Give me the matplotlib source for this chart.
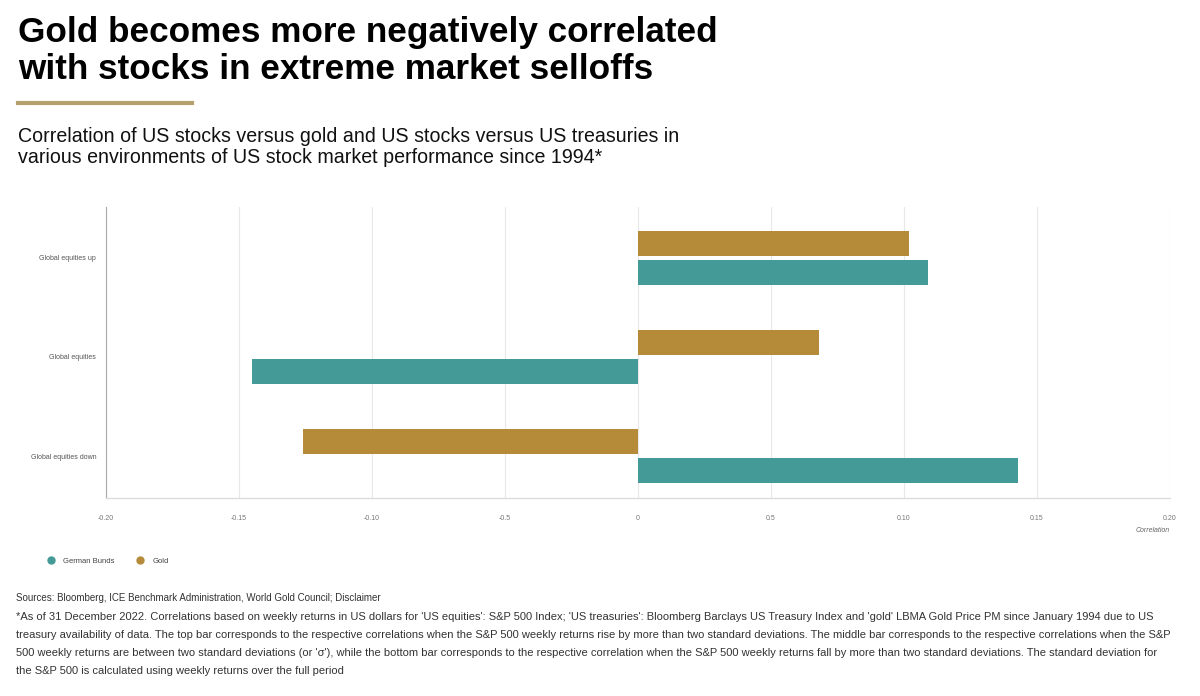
import matplotlib
matplotlib.use("Agg")
import matplotlib.pyplot as plt
from matplotlib.lines import Line2D

plt.rcParams["font.family"] = ["Liberation Sans", "DejaVu Sans"]

# data (bottom -> top)
categories = ["Global equities down", "Global equities", "Global equities up"]
gold = [-0.126, 0.068, 0.102]
bunds = [0.143, -0.145, 0.109]
xticks = [-0.20, -0.15, -0.10, -0.05, 0, 0.05, 0.10, 0.15, 0.20]
xtick_labels = ["-0.20", "-0.15", "-0.10", "-0.5", "0", "0.5", "0.10", "0.15", "0.20"]

GOLD = "#b58b3a"
TEAL = "#439a97"

fig = plt.figure(figsize=(12, 6.96), dpi=100)
ax = fig.add_axes([0.0883, 0.2845, 0.8867, 0.4181])

ypos = list(range(len(categories)))
ax.barh([y + 0.15 for y in ypos], gold, height=0.25, color=GOLD, zorder=3)
ax.barh([y - 0.15 for y in ypos], bunds, height=0.25, color=TEAL, zorder=3)

ax.set_xlim(-0.20, 0.20)
ax.set_ylim(-0.424, 2.515)
ax.set_xticks(xticks)
ax.set_xticklabels(xtick_labels, fontsize=5, color="#777777")
ax.set_yticks(ypos)
ax.set_yticklabels(categories, fontsize=5, color="#555555")
ax.tick_params(axis="x", length=0, pad=12)
ax.tick_params(axis="y", length=0, pad=7)
ax.grid(axis="x", color="#e8e8e8", linewidth=0.8, zorder=0)
for s in ["top", "right"]:
    ax.spines[s].set_visible(False)
ax.spines["left"].set_color("#aaaaaa")
ax.spines["bottom"].set_color("#dddddd")
ax.spines["left"].set_linewidth(0.8)
ax.spines["bottom"].set_linewidth(1.0)

fig.text(0.975, 1 - 531 / 696, "Correlation", ha="right", va="center",
         fontsize=5, style="italic", color="#666666")

# legend
handles = [
    Line2D([], [], marker="o", linestyle="none", markersize=5, color=TEAL, label="German Bunds"),
    Line2D([], [], marker="o", linestyle="none", markersize=5, color=GOLD, label="Gold"),
]
fig.legend(handles=handles, loc="center left", bbox_to_anchor=(0.030, 1 - 561 / 696),
           ncol=2, frameon=False, fontsize=5.5, handletextpad=0.6, columnspacing=2.4,
           labelcolor="#444444")

# title block
fig.text(0.015, 1 - 51 / 696, "Gold becomes more negatively correlated\nwith stocks in extreme market selloffs",
         ha="left", va="center", fontsize=25.3, fontweight="bold", color="black", linespacing=1.12)
fig.add_artist(Line2D([18 / 1200, 192 / 1200], [1 - 103 / 696] * 2, color="#b3a06d", linewidth=3))
fig.text(0.015, 1 - 147 / 696,
         "Correlation of US stocks versus gold and US stocks versus US treasuries in\n"
         "various environments of US stock market performance since 1994*",
         ha="left", va="center", fontsize=14.1, color="#111111", linespacing=1.12)

sources = "Sources: Bloomberg, ICE Benchmark Administration, World Gold Council; Disclaimer"
footnote = (
    "*As of 31 December 2022. Correlations based on weekly returns in US dollars for 'US equities': S&P 500 Index; "
    "'US treasuries': Bloomberg Barclays US Treasury Index and 'gold' LBMA Gold Price PM since January 1994 due to US\n"
    "treasury availability of data. The top bar corresponds to the respective correlations when the S&P 500 weekly "
    "returns rise by more than two standard deviations. The middle bar corresponds to the respective correlations when the S&P\n"
    "500 weekly returns are between two standard deviations (or 'σ'), while the bottom bar corresponds to the respective "
    "correlation when the S&P 500 weekly returns fall by more than two standard deviations. The standard deviation for\n"
    "the S&P 500 is calculated using weekly returns over the full period"
)
fig.text(0.0135, 1 - 598 / 696, sources, ha="left", va="center", fontsize=7, color="#333333")
fig.text(0.0135, 1 - 644 / 696, footnote, ha="left", va="center", fontsize=8,
         color="#333333", linespacing=1.97)

fig.savefig("out.png", dpi=100, facecolor="white")
